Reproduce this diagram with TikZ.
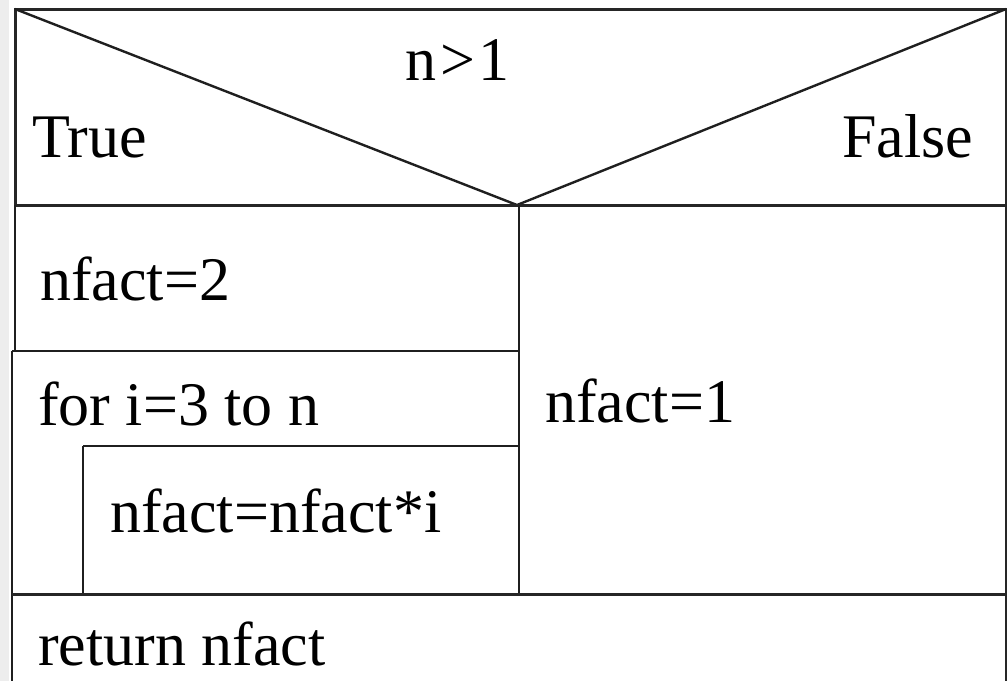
\documentclass[tikz,border=0pt]{standalone}
\usepackage{fontspec}
\setmainfont{Liberation Serif}
\begin{document}
\begin{tikzpicture}[x=1pt,y=-1pt,
  ln/.style={line width=2.4pt, black!88},
  outer/.style={line width=3pt, black!85},
  lbl/.style={anchor=base west, inner sep=0pt, font=\fontsize{62}{74}\selectfont}]
\useasboundingbox (0,0) rectangle (1007,681);
\fill[black!7] (0,0) rectangle (9,681);
% header
\draw[outer] (15,205) -- (15,9) -- (1006,9) -- (1006,681);
\draw[ln] (15,9) -- (517,205) -- (1006,9);
\draw[outer] (15,205) -- (1006,205);
% left column
\draw[ln] (15,205) -- (15,351);
\draw[ln] (12,351) -- (12,681);
\draw[ln] (12,351) -- (519,351);
\draw[ln] (519,205) -- (519,594);
\draw[ln] (83,446) -- (519,446);
\draw[ln] (83,446) -- (83,594);
\draw[outer] (12,594) -- (1006,594);
% texts
\node[lbl] (cond) at (405,80) {n\kern4pt>\kern3pt1};
\node[lbl] (tru) at (32,157) {True};
\node[lbl] (fal) at (842,157) {False};
\node[lbl] (s1) at (40,300) {nfact=2};
\node[lbl] (loop) at (38,425) {for i=3 to n};
\node[lbl] (s3) at (545,422) {nfact=1};
\node[lbl] (body) at (110,532) {nfact=nfact*i};
\node[lbl] (ret) at (38,665) {return nfact};
\end{tikzpicture}
\end{document}
